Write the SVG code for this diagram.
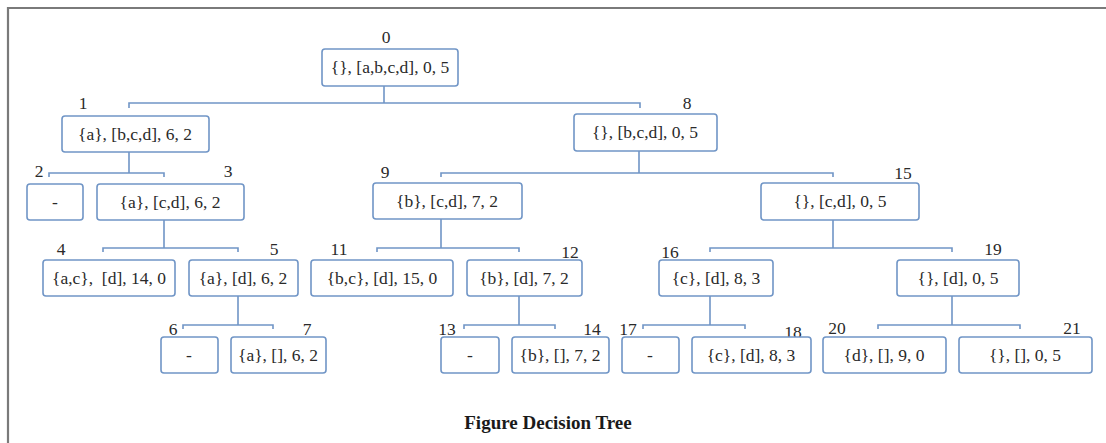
<svg xmlns="http://www.w3.org/2000/svg" width="1106" height="443" viewBox="0 0 1106 443">
<style>
.b{fill:#fff;stroke:#7095c6;stroke-width:1.6}
.t{font-family:"Liberation Serif","DejaVu Serif",serif;font-size:17.5px;fill:#2a2a2a;text-anchor:middle}
.n{font-family:"Liberation Serif","DejaVu Serif",serif;font-size:17.5px;fill:#2a2a2a;text-anchor:middle}
.c{fill:none;stroke:#7095c6;stroke-width:1.6}
</style>
<rect x="0" y="0" width="1106" height="443" fill="#fff"/>
<path d="M8 443 V8 H1106" fill="none" stroke="#7a7a7a" stroke-width="2.2"/>
<g id="connectors">
<path class="c" d="M384 86 V103 M129 108 V103 H640 V108"/>
<path class="c" d="M129 152 V173 M49 177 V173 H164 V177"/>
<path class="c" d="M639 151 V173 M441 177 V173 H833 V177"/>
<path class="c" d="M164 220 V248 M103 252 V248 H238 V252"/>
<path class="c" d="M441 219 V248 M377 252 V248 H519 V252"/>
<path class="c" d="M833 220 V248 M710 252 V248 H952 V252"/>
<path class="c" d="M238 296 V325 M183 329 V325 H273 V329"/>
<path class="c" d="M519 296 V325 M464 329 V325 H555 V329"/>
<path class="c" d="M710 296 V325 M643 329 V325 H745 V329"/>
<path class="c" d="M952 296 V325 M878 329 V325 H1020 V329"/>
</g>
<g id="node0"><text class="n" x="386" y="43">0</text><rect class="b" x="322" y="49" width="136" height="37" rx="3"/><text class="t" x="390" y="73">{}, [a,b,c,d], 0, 5</text></g>
<g id="node1"><text class="n" x="83" y="109">1</text><rect class="b" x="62" y="116" width="147" height="36" rx="3"/><text class="t" x="135" y="140">{a}, [b,c,d], 6, 2</text></g>
<g id="node8"><text class="n" x="687" y="109">8</text><rect class="b" x="574" y="114" width="143" height="37" rx="3"/><text class="t" x="645" y="138">{}, [b,c,d], 0, 5</text></g>
<g id="node2"><text class="n" x="39" y="177">2</text><rect class="b" x="27" y="184" width="56" height="36" rx="3"/><text class="t" x="55" y="208">-</text></g>
<g id="node3"><text class="n" x="228" y="177">3</text><rect class="b" x="97" y="184" width="147" height="36" rx="3"/><text class="t" x="170" y="208">{a}, [c,d], 6, 2</text></g>
<g id="node9"><text class="n" x="385" y="178">9</text><rect class="b" x="373" y="183" width="149" height="36" rx="3"/><text class="t" x="447" y="207">{b}, [c,d], 7, 2</text></g>
<g id="node15"><text class="n" x="903" y="179">15</text><rect class="b" x="761" y="183" width="158" height="37" rx="3"/><text class="t" x="840" y="207">{}, [c,d], 0, 5</text></g>
<g id="node4"><text class="n" x="61" y="255">4</text><rect class="b" x="43" y="260" width="132" height="36" rx="3"/><text class="t" x="109" y="284" xml:space="preserve">{a,c},  [d], 14, 0</text></g>
<g id="node5"><text class="n" x="274" y="255">5</text><rect class="b" x="189" y="260" width="109" height="36" rx="3"/><text class="t" x="243" y="284">{a}, [d], 6, 2</text></g>
<g id="node11"><text class="n" x="339" y="255">11</text><rect class="b" x="311" y="260" width="142" height="36" rx="3"/><text class="t" x="382" y="284">{b,c}, [d], 15, 0</text></g>
<g id="node12"><text class="n" x="570" y="258">12</text><rect class="b" x="467" y="260" width="115" height="36" rx="3"/><text class="t" x="524" y="284">{b}, [d], 7, 2</text></g>
<g id="node16"><text class="n" x="670" y="258">16</text><rect class="b" x="659" y="260" width="114" height="36" rx="3"/><text class="t" x="716" y="284">{c}, [d], 8, 3</text></g>
<g id="node19"><text class="n" x="993" y="255">19</text><rect class="b" x="897" y="260" width="122" height="36" rx="3"/><text class="t" x="958" y="284">{}, [d], 0, 5</text></g>
<g id="node6"><text class="n" x="173" y="335">6</text><rect class="b" x="161" y="337" width="57" height="36" rx="3"/><text class="t" x="189" y="361">-</text></g>
<g id="node7"><text class="n" x="307" y="335">7</text><rect class="b" x="231" y="337" width="95" height="36" rx="3"/><text class="t" x="278" y="361">{a}, [], 6, 2</text></g>
<g id="node13"><text class="n" x="447" y="335">13</text><rect class="b" x="441" y="337" width="58" height="36" rx="3"/><text class="t" x="470" y="361">-</text></g>
<g id="node14"><text class="n" x="592" y="335">14</text><rect class="b" x="512" y="337" width="97" height="36" rx="3"/><text class="t" x="560" y="361">{b}, [], 7, 2</text></g>
<g id="node17"><text class="n" x="628" y="335">17</text><rect class="b" x="622" y="337" width="57" height="36" rx="3"/><text class="t" x="650" y="361">-</text></g>
<g id="node18"><text class="n" x="793" y="338">18</text><rect class="b" x="692" y="337" width="119" height="36" rx="3"/><text class="t" x="751" y="361">{c}, [d], 8, 3</text></g>
<g id="node20"><text class="n" x="837" y="334">20</text><rect class="b" x="823" y="337" width="123" height="36" rx="3"/><text class="t" x="884" y="361">{d}, [], 9, 0</text></g>
<g id="node21"><text class="n" x="1072" y="334">21</text><rect class="b" x="959" y="337" width="133" height="36" rx="3"/><text class="t" x="1025" y="361">{}, [], 0, 5</text></g>
<text x="548" y="429" font-family="'Liberation Serif','Times New Roman',serif" font-size="19" font-weight="bold" fill="#1a1a1a" text-anchor="middle">Figure Decision Tree</text>
</svg>
